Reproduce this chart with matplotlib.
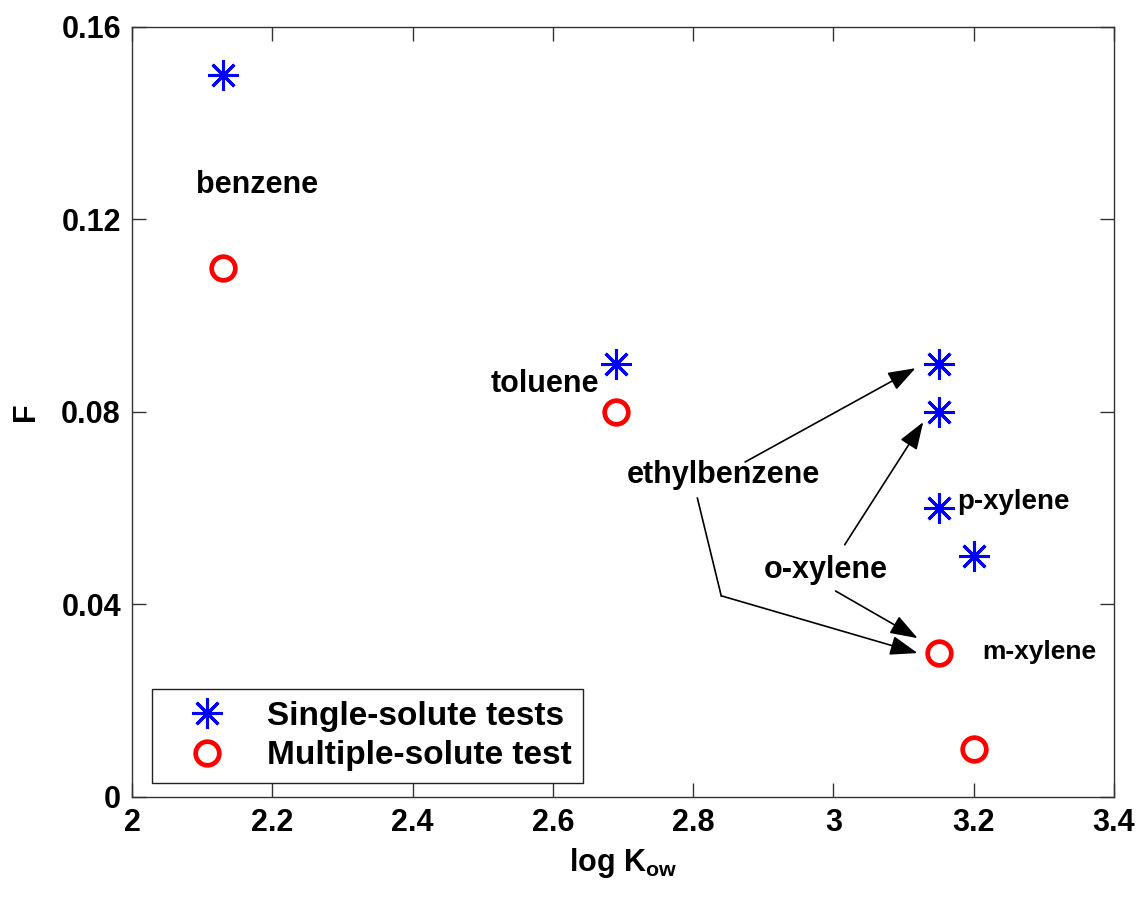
import matplotlib
matplotlib.use("Agg")
import matplotlib.pyplot as plt

plt.rcParams['font.family'] = ['Liberation Sans', 'DejaVu Sans']
plt.rcParams['font.weight'] = 'bold'
plt.rcParams['mathtext.fontset'] = 'custom'
plt.rcParams['mathtext.rm'] = 'Liberation Sans:bold'
plt.rcParams['mathtext.bf'] = 'Liberation Sans:bold'

# log Kow and F for each compound
single_x = [2.13, 2.69, 3.15, 3.15, 3.15, 3.20]
single_f = [0.15, 0.09, 0.09, 0.08, 0.06, 0.05]
multi_x = [2.13, 2.69, 3.15, 3.20]
multi_f = [0.11, 0.08, 0.03, 0.01]

names = ['benzene', 'toluene', 'ethylbenzene', 'o-xylene', 'p-xylene', 'm-xylene']
name_x = [2.178, 2.588, 2.843, 2.989, 3.257, 3.293]
name_y = [0.1272, 0.0858, 0.0669, 0.0472, 0.0613, 0.0301]
name_size = [22, 22, 22, 22, 20, 19]

fig = plt.figure(figsize=(11.44, 8.98), dpi=100)
ax = fig.add_axes([0.1154, 0.1125, 0.8584, 0.8575])

star = (8, 2, 0)
ax.plot(single_x, single_f, linestyle='none', marker=star, markersize=22,
        markeredgewidth=2.2, color='#0000ff', label='Single-solute tests')
ax.plot(multi_x, multi_f, linestyle='none', marker='o', markersize=17,
        markeredgewidth=3.4, markerfacecolor='none', markeredgecolor='#ff0000',
        label='Multiple-solute test')

for n, tx, ty, fs in zip(names, name_x, name_y, name_size):
    ax.text(tx, ty, n, fontsize=fs, fontweight='bold', ha='center', va='center')

arrow = dict(arrowstyle='-|>,head_length=0.85,head_width=0.3', color='black',
             lw=1.2, shrinkA=0, shrinkB=0, mutation_scale=20)
# ethylbenzene pointers
ax.annotate('', xy=(3.117, 0.0891), xytext=(2.874, 0.0696), arrowprops=arrow)
ax.plot([2.806, 2.840], [0.0621, 0.0418], color='black', lw=1.2)
ax.annotate('', xy=(3.120, 0.0299), xytext=(2.840, 0.0418), arrowprops=arrow)
# o-xylene pointers
ax.annotate('', xy=(3.128, 0.0779), xytext=(3.016, 0.0524), arrowprops=arrow)
ax.annotate('', xy=(3.120, 0.0330), xytext=(3.003, 0.0428), arrowprops=arrow)

ax.set_xlim(2, 3.4)
ax.set_ylim(0, 0.16)
ax.set_xticks([2, 2.2, 2.4, 2.6, 2.8, 3, 3.2, 3.4])
ax.set_xticklabels(['2', '2.2', '2.4', '2.6', '2.8', '3', '3.2', '3.4'])
ax.set_yticks([0, 0.04, 0.08, 0.12, 0.16])
ax.set_yticklabels(['0', '0.04', '0.08', '0.12', '0.16'])
ax.tick_params(direction='in', length=10, width=1, top=True, right=True,
               labelsize=22, pad=8, color='#333333')
for lab in ax.get_xticklabels() + ax.get_yticklabels():
    lab.set_fontweight('bold')
for s in ax.spines.values():
    s.set_color('#333333')
    s.set_linewidth(1)

ax.set_xlabel(r'log K$_{\mathrm{ow}}$', fontsize=22, fontweight='bold', labelpad=6)
ax.set_ylabel('F', fontsize=22, fontweight='bold')
ax.yaxis.set_label_coords(-0.093, 0.5)

leg = ax.legend(loc='lower left', bbox_to_anchor=(0.0204, 0.0182),
                borderaxespad=0, fontsize=24, frameon=True, fancybox=False,
                handletextpad=0.5, handlelength=2.6, borderpad=0.35,
                labelspacing=0.25)
leg.get_frame().set_edgecolor('#222222')
leg.get_frame().set_linewidth(1)
leg.get_frame().set_alpha(1)
for t in leg.get_texts():
    t.set_fontweight('bold')

fig.savefig('out.png', dpi=100)
